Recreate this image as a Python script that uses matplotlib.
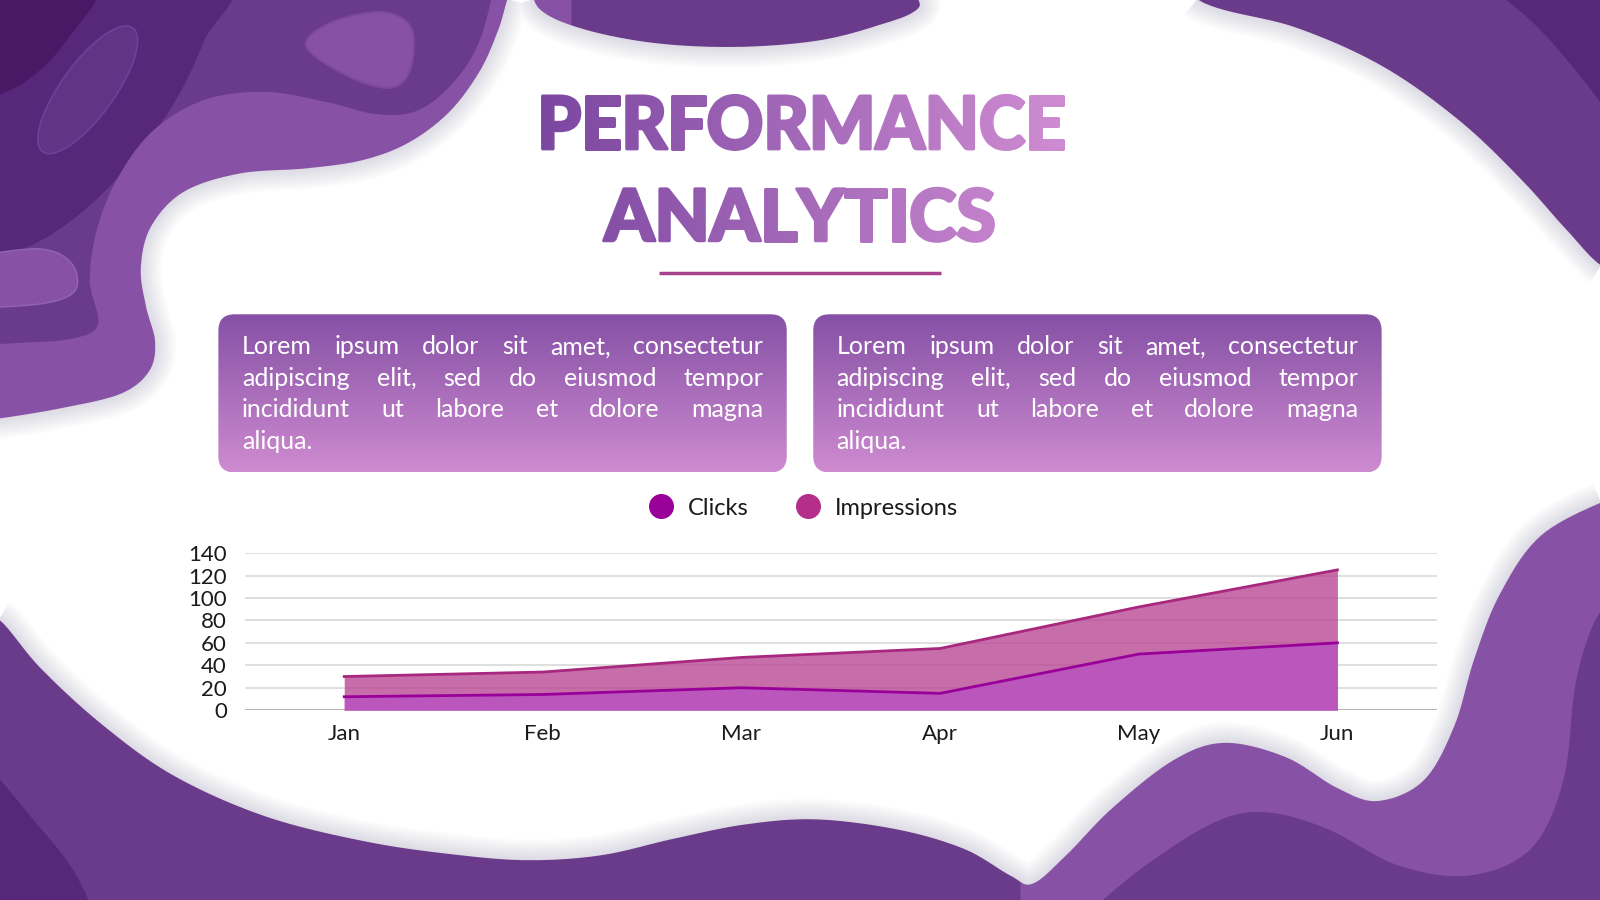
import numpy as np
import matplotlib
matplotlib.use('Agg')
import matplotlib.pyplot as plt
from matplotlib.patches import Polygon, FancyBboxPatch, Ellipse, PathPatch
from matplotlib.textpath import TextPath
from matplotlib.font_manager import FontProperties
from matplotlib.path import Path
from matplotlib.lines import Line2D
from matplotlib.colors import to_rgb

## Chart data ##
#-----------------------------------------------------------------------------------------------------------------------
months = ['Jan', 'Feb', 'Mar', 'Apr', 'May', 'Jun']
clicks = [12, 14, 20, 15, 50, 60]
impressions = [30, 34, 47, 55, 92, 125]
y_ticks = [0, 20, 40, 60, 80, 100, 120, 140]
series_names = ['Clicks', 'Impressions']

title_lines = ['PERFORMANCE', 'ANALYTICS']
body_lines = ['Lorem ipsum dolor sit amet, consectetur',
              'adipiscing elit, sed do eiusmod tempor',
              'incididunt ut labore et dolore magna',
              'aliqua.']

BODY = ['Lato', 'DejaVu Sans']
W, H = 1568, 882   # drawing frame for the background layer

# colours
MID = '#6A3B8A'
LIGHT = '#8752A6'
DARK = '#57287A'
DARKEST = '#4A1966'
CLICK = '#990099'
IMPR = '#B52E8A'


def smooth(pts, closed=True, n=16):
    # Catmull-Rom spline through the given points
    p = np.asarray(pts, float)
    if closed:
        p = np.vstack([p[-1], p, p[0], p[1]])
    else:
        p = np.vstack([p[0], p, p[-1]])
    t = np.linspace(0, 1, n, endpoint=False)[:, None]
    out = []
    for i in range(1, len(p) - 2):
        p0, p1, p2, p3 = p[i - 1], p[i], p[i + 1], p[i + 2]
        out.append(0.5 * (2 * p1 + (-p0 + p2) * t + (2 * p0 - 5 * p1 + 4 * p2 - p3) * t ** 2
                          + (-p0 + 3 * p1 - 3 * p2 + p3) * t ** 3))
    out = np.vstack(out)
    if not closed:
        out = np.vstack([out, p[-2]])
    return out


fig = plt.figure(figsize=(16, 9), dpi=100, facecolor=MID)
bg = fig.add_axes([0, 0, 1, 1])
bg.set_xlim(0, W)
bg.set_ylim(H, 0)
bg.axis('off')

## Background paper layers ##
#-----------------------------------------------------------------------------------------------------------------------
bg.add_patch(Polygon(smooth([(-20, -20), (215, -20), (200, 40), (165, 110), (110, 180), (50, 230), (-20, 262)], False),
                     closed=True, fc=DARK, ec='none', zorder=1))
bg.add_patch(Polygon(smooth([(-20, -20), (95, -20), (65, 40), (25, 80), (-20, 100)], False),
                     closed=True, fc=DARKEST, ec='none', zorder=1))
bg.add_patch(Ellipse((86, 88), 150, 52, angle=-54, fc='#633486', ec='#6E409A', lw=1.2, zorder=1.5))
# top-left light band
bg.add_patch(Polygon(smooth([(486, -20), (470, 40), (445, 80), (410, 108), (370, 112), (320, 100), (260, 90),
                             (200, 98), (150, 128), (115, 175), (95, 225), (88, 275), (96, 318), (70, 332),
                             (20, 336), (-20, 338)], False).tolist()
                     + [(-20, 470), (250, 470), (420, 300), (560, 150), (560, -20)],
                     closed=True, fc=LIGHT, ec='none', zorder=2))
bg.add_patch(Polygon(smooth([(-20, 250), (40, 244), (70, 258), (74, 284), (45, 297), (-20, 302)], False),
                     closed=True, fc=LIGHT, ec='#9365B0', lw=1, zorder=2))
bg.add_patch(Polygon(smooth([(300, 45), (325, 22), (375, 12), (403, 28), (402, 68), (382, 86), (340, 74)]),
                     closed=True, fc=LIGHT, ec='#7D4A9E', lw=1.5, zorder=2))
# top-right darker corner
bg.add_patch(Polygon(smooth([(1450, -20), (1500, 20), (1545, 70), (1590, 130)], False).tolist()
                     + [(1600, -20)], closed=True, fc=DARK, ec='none', zorder=1))
# bottom-right light wave
bg.add_patch(Polygon(smooth([(1060, 900), (1120, 850), (1190, 806), (1240, 796), (1300, 812), (1370, 848),
                             (1440, 858), (1500, 832), (1532, 765), (1545, 665), (1568, 600), (1600, 585)], False).tolist()
                     + [(1600, 400), (1300, 600), (1000, 800), (1000, 900)],
                     closed=True, fc=LIGHT, ec='none', zorder=2))
# bottom-left darker corner
bg.add_patch(Polygon(smooth([(-20, 740), (30, 800), (70, 850), (95, 900)], False).tolist() + [(-20, 900)],
                     closed=True, fc=DARK, ec='none', zorder=1))

## White sheet ##
#-----------------------------------------------------------------------------------------------------------------------
white_pts = [(497, 0), (505, -25), (518, -25), (528, 8), (570, 28), (640, 42), (720, 46), (800, 40), (860, 25),
             (900, 8), (912, -25), (1120, -40), (1180, 3), (1270, 27), (1355, 65), (1430, 118), (1490, 175),
             (1535, 225), (1572, 262), (1610, 268), (1610, 482), (1575, 490), (1510, 525), (1470, 582),
             (1445, 645), (1425, 712), (1395, 765), (1350, 785), (1310, 772), (1260, 742), (1200, 728),
             (1150, 745), (1090, 792), (1045, 838), (1012, 866), (990, 858), (945, 832), (880, 813), (800, 803),
             (730, 808), (660, 822), (590, 838), (520, 843), (450, 838), (360, 825), (260, 800), (170, 760),
             (100, 710), (40, 655), (0, 608), (-25, 600), (-25, 412), (0, 410), (60, 400), (118, 386),
             (146, 364), (152, 335), (143, 300), (138, 262), (148, 222), (180, 188), (235, 170), (300, 165),
             (355, 157), (400, 140), (440, 110), (470, 70), (488, 30)]
white = smooth(white_pts, True, 12)
sheet = Polygon(white, closed=True, fc='white', ec='none', zorder=3)
bg.add_patch(sheet)
for lw in np.arange(30, 1, -2.5):
    sh = Polygon(white, closed=True, fc='none', ec='#3A2050', lw=lw, alpha=0.012, zorder=3.5)
    bg.add_patch(sh)
    sh.set_clip_path(sheet)

## Title with horizontal gradient ##
#-----------------------------------------------------------------------------------------------------------------------
title_prop = FontProperties(family='Lato', weight='black')
title_boxes = [(525, 1043, 92, 148), (590, 975, 183, 238)]
gx0, gx1 = 525, 1043
c0, c1 = np.array(to_rgb('#7A46A0')), np.array(to_rgb('#CF8CD2'))
grad = np.linspace(0, 1, 256)
grad_img = (c0[None, :] * (1 - grad[:, None]) + c1[None, :] * grad[:, None])[None, :, :]
sw = 3.0   # stroke width in px that thickens the glyphs
for text, (x0, x1, y0, y1) in zip(title_lines, title_boxes):
    tp = TextPath((0, 0), text, size=100, prop=title_prop)
    v = tp.vertices.copy()
    bx0, by0 = v.min(axis=0)
    bx1, by1 = v.max(axis=0)
    ix0, ix1, iy0, iy1 = x0 + sw / 2, x1 - sw / 2, y0 + sw / 2, y1 - sw / 2

    def tf(a):
        a = np.asarray(a, float).copy()
        a[:, 0] = ix0 + (a[:, 0] - bx0) / (bx1 - bx0) * (ix1 - ix0)
        a[:, 1] = iy0 + (by1 - a[:, 1]) / (by1 - by0) * (iy1 - iy0)
        return a

    patch = PathPatch(Path(tf(v), tp.codes), fc='none', ec='none', zorder=5)
    bg.add_patch(patch)
    im = bg.imshow(grad_img, extent=(gx0, gx1, y1 + 5, y0 - 5), aspect='auto', zorder=5, interpolation='bilinear')
    im.set_clip_path(patch)
    for poly in tp.to_polygons():
        pp = tf(poly)
        f = np.clip((pp[:, 0].mean() - gx0) / (gx1 - gx0), 0, 1)
        bg.add_patch(Polygon(pp, closed=True, fc='none', ec=c0 * (1 - f) + c1 * f, lw=sw * 0.72,
                             joinstyle='round', zorder=4.9))
bg.plot([646, 922], [268, 268], color='#A8418E', lw=2.5, solid_capstyle='butt', zorder=5)
bg.set_xlim(0, W)
bg.set_ylim(H, 0)

## Text boxes ##
#-----------------------------------------------------------------------------------------------------------------------
vgrad = np.linspace(0, 1, 128)
b0, b1 = np.array(to_rgb('#8550A5')), np.array(to_rgb('#CE8BD0'))
box_img = (b0[None, :] * (1 - vgrad[:, None]) + b1[None, :] * vgrad[:, None])[:, None, :]
renderer = fig.canvas.get_renderer()
body_prop = FontProperties(family=BODY, size=18)
k = W / 1600.0


def justify(lines, x0, x1, y0, dy):
    for i, line in enumerate(lines):
        y = y0 + i * dy
        words = line.split()
        if i == len(lines) - 1 or len(words) == 1:
            bg.text(x0, y, line, fontproperties=body_prop, color='white', va='baseline', ha='left', zorder=7)
            continue
        widths = [renderer.get_text_width_height_descent(w, body_prop, ismath=False)[0] * k for w in words]
        gap = (x1 - x0 - sum(widths)) / (len(words) - 1)
        x = x0
        for w, wd in zip(words, widths):
            bg.text(x, y, w, fontproperties=body_prop, color='white', va='baseline', ha='left', zorder=7)
            x += wd + gap


for bx in [214, 797]:
    box = FancyBboxPatch((bx, 308), 557, 155, boxstyle='round,pad=0,rounding_size=16', fc='none', ec='none', zorder=6)
    bg.add_patch(box)
    im = bg.imshow(box_img, extent=(bx, bx + 557, 463, 308), aspect='auto', zorder=6, interpolation='bilinear')
    im.set_clip_path(box)
    justify(body_lines, bx + 23, bx + 534, 347, 31)
bg.set_xlim(0, W)
bg.set_ylim(H, 0)

## Area chart ##
#-----------------------------------------------------------------------------------------------------------------------
ax = fig.add_axes([240 / W, 1 - 696 / H, (1408 - 240) / W, (696 - 542) / H])
ax.patch.set_alpha(0)
ax.set_zorder(10)
x = np.arange(len(months))
ax.fill_between(x, impressions, color='#BA4894', alpha=0.8, lw=0, zorder=2)
ax.plot(x, impressions, color='#A8287F', lw=2, zorder=3)
ax.fill_between(x, clicks, color='#B951C1', alpha=0.8, lw=0, zorder=4)
ax.plot(x, clicks, color=CLICK, lw=2, zorder=5)
ax.set_xlim(-0.5, len(months) - 0.5)
ax.set_ylim(0, 140)
ax.set_yticks(y_ticks)
ax.set_xticks(x)
ax.set_xticklabels(months)
for yt in y_ticks:
    ax.axhline(yt, color='#A8A8A8' if yt == 0 else '#D9D9D9', lw=1.2, zorder=1)
for s in ax.spines.values():
    s.set_visible(False)
ax.tick_params(axis='both', length=0, labelsize=16, labelcolor='#1A1A1A')
ax.tick_params(axis='y', pad=13)
ax.tick_params(axis='x', pad=10)
for lab in ax.get_xticklabels() + ax.get_yticklabels():
    lab.set_fontfamily(BODY)

handles = [Line2D([], [], marker='o', ls='none', ms=17, color=c) for c in [CLICK, IMPR]]
leg = fig.legend(handles, series_names, loc='center', bbox_to_anchor=(782 / W, 1 - 498 / H), ncol=2,
                 frameon=False, handletextpad=0.15, columnspacing=1.5, prop=FontProperties(family=BODY, size=17))
for t in leg.get_texts():
    t.set_color('#1A1A1A')

fig.savefig('out.png', dpi=100, facecolor=MID)
